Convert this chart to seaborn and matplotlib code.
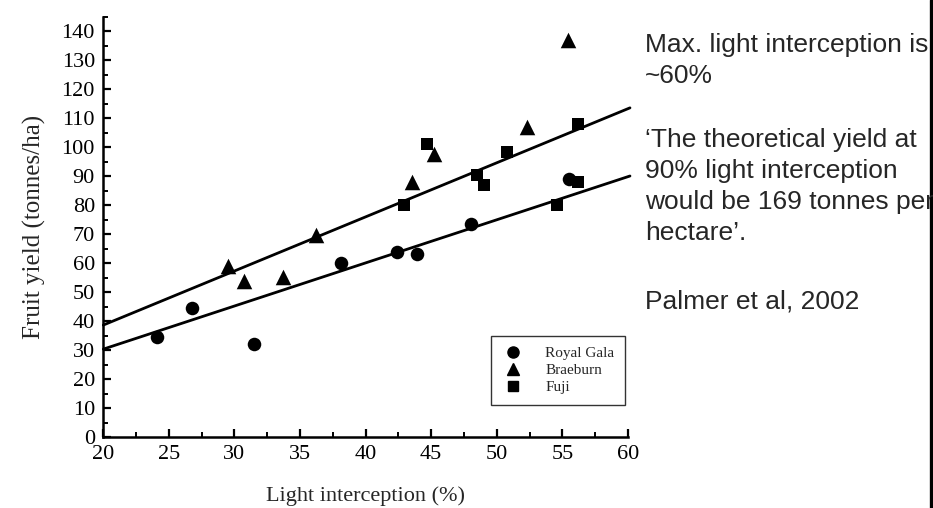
import numpy as np
import pandas as pd
import matplotlib
matplotlib.use("Agg")
import matplotlib.pyplot as plt
import seaborn as sns
from matplotlib.ticker import MultipleLocator
from matplotlib.lines import Line2D

# ---- data ----
varieties = ["Royal Gala", "Braeburn", "Fuji"]

rg_x = [24.1, 26.8, 31.5, 38.1, 42.4, 43.9, 48.0, 55.5]
rg_y = [34.6, 44.6, 31.9, 60.0, 63.9, 63.1, 73.4, 88.8]

bb_x = [29.5, 30.7, 33.7, 36.2, 43.5, 45.2, 52.3, 55.4]
bb_y = [59.0, 53.9, 55.2, 69.7, 88.1, 97.5, 107.0, 137.0]

fj_x = [42.9, 44.7, 48.5, 49.0, 50.8, 54.6, 56.2, 56.2]
fj_y = [80.0, 101.0, 90.3, 86.9, 98.4, 80.0, 88.1, 108.1]

line_x = [20.0, 60.15]
upper_line_y = [38.6, 113.5]
lower_line_y = [30.3, 90.0]

x_ticks = [20, 25, 30, 35, 40, 45, 50, 55, 60]
y_ticks = list(range(0, 141, 10))

note_lines = ["Max. light interception is", "~60%",
              "\u2018The theoretical yield at", "90% light interception",
              "would be 169 tonnes per", "hectare\u2019.",
              "Palmer et al, 2002"]

# ---- style ----
sns.set_style("ticks")
plt.rcParams["font.family"] = ["Liberation Serif", "DejaVu Serif"]

W, H = 933, 508
fig = plt.figure(figsize=(W / 100, H / 100), dpi=100)
ax_left, ax_right, ax_bottom, ax_top = 103.3, 628.0, 437.0, 16.5
ax = fig.add_axes([ax_left / W, 1 - ax_bottom / H,
                   (ax_right - ax_left) / W, (ax_bottom - ax_top) / H])

df = pd.concat([
    pd.DataFrame({"x": rg_x, "y": rg_y, "variety": varieties[0]}),
    pd.DataFrame({"x": bb_x, "y": bb_y, "variety": varieties[1]}),
    pd.DataFrame({"x": fj_x, "y": fj_y, "variety": varieties[2]}),
], ignore_index=True)

markers = {"Royal Gala": "o", "Braeburn": "^", "Fuji": "s"}
sizes = {"Royal Gala": 95, "Braeburn": 125, "Fuji": 80}

for v in varieties:
    sns.scatterplot(data=df[df["variety"] == v], x="x", y="y",
                    marker=markers[v], s=sizes[v], color="black",
                    edgecolor="black", linewidth=0, ax=ax, legend=False,
                    zorder=3, clip_on=False)

lines_df = pd.DataFrame({"x": line_x * 2,
                         "y": upper_line_y + lower_line_y,
                         "fit": ["upper"] * 2 + ["lower"] * 2})
sns.lineplot(data=lines_df, x="x", y="y", units="fit", estimator=None,
             color="black", linewidth=2.0, ax=ax, legend=False,
             zorder=2, clip_on=False)

ax.set_xlim(20, 60)
ax.set_ylim(0, 145)
ax.set_xticks(x_ticks)
ax.set_yticks(y_ticks)
ax.xaxis.set_minor_locator(MultipleLocator(2.5))
ax.yaxis.set_minor_locator(MultipleLocator(5))
ax.tick_params(which="major", direction="in", length=6, width=1.6,
               labelsize=16, color="black", labelcolor="black", pad=6)
ax.tick_params(which="minor", direction="in", length=3.5, width=1.4,
               color="black")
sns.despine(ax=ax)
for s in ["left", "bottom"]:
    ax.spines[s].set_linewidth(1.8)
    ax.spines[s].set_color("black")

ax.set_xlabel("Light interception (%)", fontsize=16, labelpad=16)
ax.set_ylabel("Fruit yield (tonnes/ha)", fontsize=18, labelpad=11)

handles = [Line2D([], [], linestyle="none", marker=markers[v], color="black",
                  markersize={"Royal Gala": 8, "Braeburn": 9, "Fuji": 7}[v])
           for v in varieties]
leg = ax.legend(handles, varieties, loc="lower right",
                bbox_to_anchor=(0.994, 0.076), frameon=True, fancybox=False,
                fontsize=11, labelspacing=0.22, handletextpad=1.35,
                borderpad=0.7, borderaxespad=0, handlelength=1.5)
leg.get_frame().set_edgecolor("black")
leg.get_frame().set_linewidth(1.0)

# right-hand notes (baseline positions in pixels)
note_y = [52, 83, 147, 178, 209, 240, 308]
for txt, yy in zip(note_lines, note_y):
    fig.text(645 / W, 1 - yy / H, txt, fontsize=19, color="#262626",
             family=["Liberation Sans", "DejaVu Sans"], va="baseline",
             ha="left")

fig.add_artist(Line2D([930.5 / W, 930.5 / W], [0, 1], color="black",
                      linewidth=2.4, transform=fig.transFigure))

fig.savefig("out.png", dpi=100)
